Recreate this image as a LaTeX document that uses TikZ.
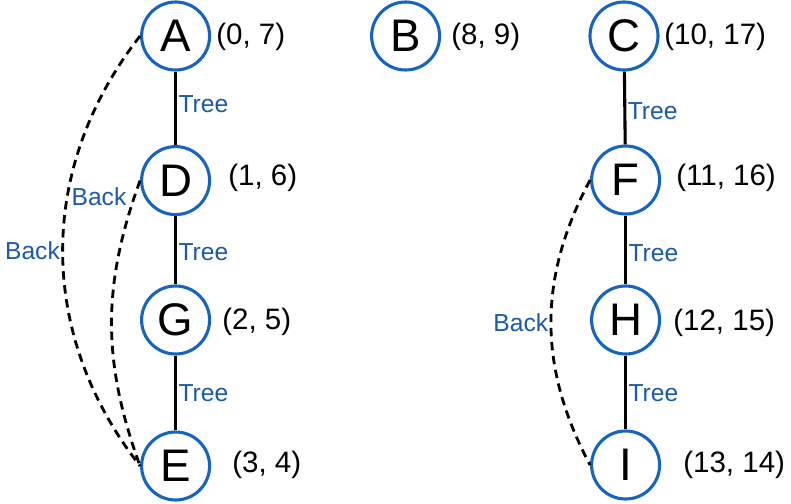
\documentclass[tikz,border=0pt]{standalone}
\usepackage{fontspec}
\setmainfont{Liberation Sans}
\usetikzlibrary{positioning}

\definecolor{circblue}{RGB}{21,101,192}
\definecolor{edgeblue}{RGB}{25,90,170}

\tikzset{
    vertex/.style={circle, draw=circblue, line width=2.2pt, minimum size=1.7cm,
        inner sep=0pt, font=\fontsize{32.5}{36}\selectfont},
    stamp/.style={anchor=west, inner sep=0pt, font=\fontsize{21}{25}\selectfont},
    treeedge/.style={line width=2.2pt},
    backedge/.style={line width=2pt, dash pattern=on 6pt off 4pt},
    edgelabel/.style={text=edgeblue, inner sep=1pt, font=\fontsize{17.5}{21}\selectfont}
}

\begin{document}
\begin{tikzpicture}
    \useasboundingbox (0,0) rectangle (19.775,12.575);

    % Left tree
    \node[vertex] (A) at (4.39,11.675) {A};
    \node[vertex] (D) at (4.39,8.06) {D};
    \node[vertex] (G) at (4.39,4.575) {G};
    \node[vertex] (E) at (4.39,0.925) {E};

    % Single vertex
    \node[vertex] (B) at (10.14,11.675) {B};

    % Right tree
    \node[vertex] (C) at (15.6,11.675) {C};
    \node[vertex] (F) at (15.64,8.075) {F};
    \node[vertex] (H) at (15.64,4.575) {H};
    \node[vertex] (I) at (15.64,0.95) {I};

    % Discovery / finish times
    \node[stamp] (tA) at (5.4,11.65) {(0, 7)};
    \node[stamp] (tD) at (5.7,8.125) {(1, 6)};
    \node[stamp] (tG) at (5.55,4.525) {(2, 5)};
    \node[stamp] (tE) at (5.8,0.95) {(3, 4)};
    \node[stamp] (tB) at (11.275,11.65) {(8, 9)};
    \node[stamp] (tC) at (16.6,11.65) {(10, 17)};
    \node[stamp] (tF) at (16.9,8.125) {(11, 16)};
    \node[stamp] (tH) at (16.825,4.5) {(12, 15)};
    \node[stamp] (tI) at (17.075,0.95) {(13, 14)};

    % Tree edges
    \draw[treeedge] (A) -- (D) node[pos=0.45, right, edgelabel] {Tree};
    \draw[treeedge] (D) -- (G) node[pos=0.52, right, edgelabel] {Tree};
    \draw[treeedge] (G) -- (E) node[midway, right, edgelabel] {Tree};
    \draw[treeedge] (C) -- (F) node[pos=0.55, right, edgelabel] {Tree};
    \draw[treeedge] (F) -- (H) node[pos=0.54, right, edgelabel] {Tree};
    \draw[treeedge] (H) -- (I) node[pos=0.51, right, edgelabel] {Tree};

    % Back edges
    \draw[backedge] (A.west) to[bend right=38] node[midway, left, edgelabel] {Back} (E.west);
    \draw[backedge] (D.west) to[bend right=20] (E.west);
    \node[edgelabel, anchor=east] (bDE) at (3.2,7.65) {Back};
    \draw[backedge] (F.west) to[bend right=28] node[midway, left, edgelabel] {Back} (I.west);
\end{tikzpicture}
\end{document}
